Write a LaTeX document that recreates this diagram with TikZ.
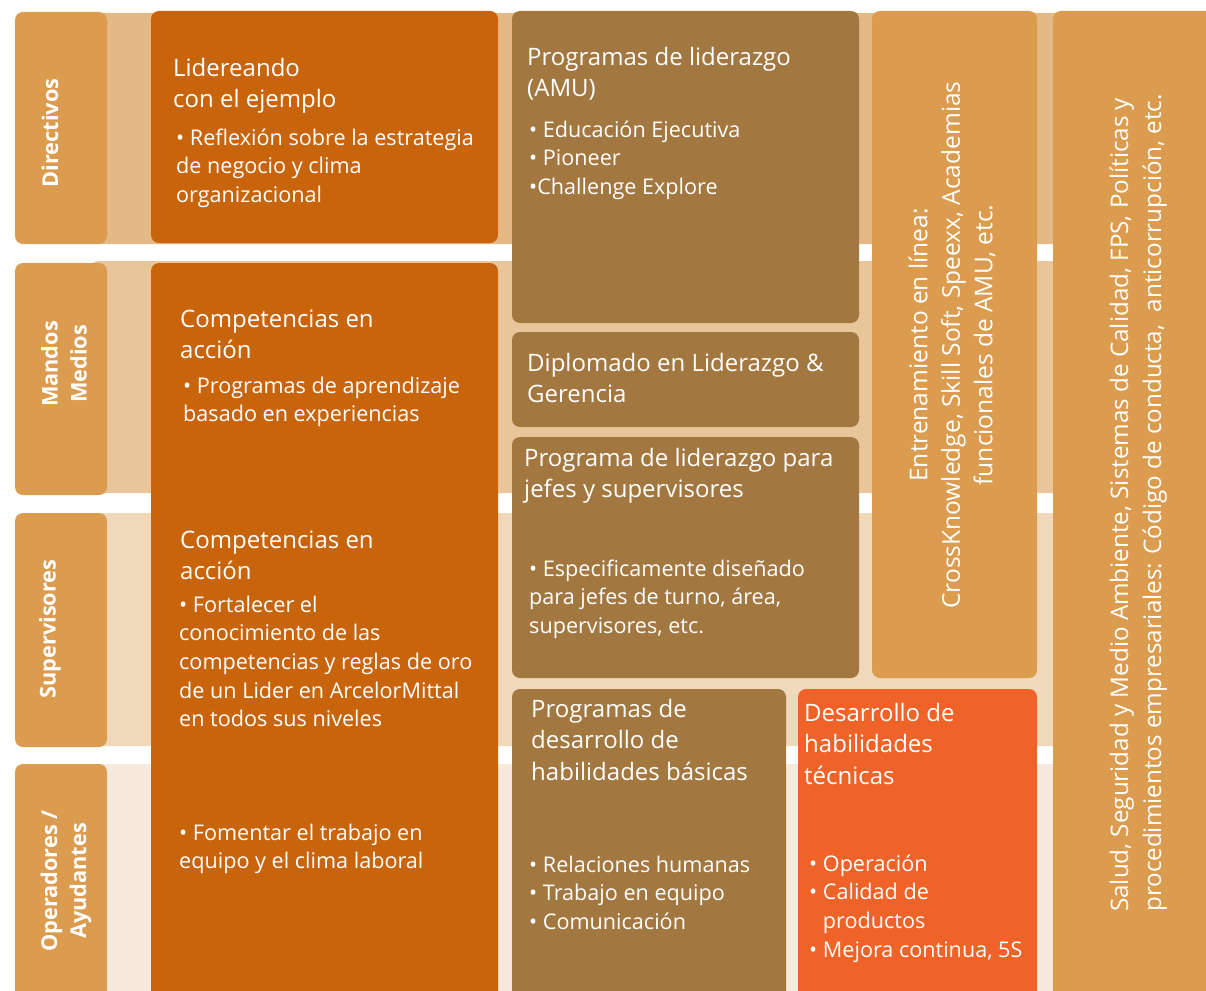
\documentclass[tikz,border=0pt]{standalone}
\usepackage{fontspec}
\setmainfont{Open Sans}
\definecolor{labc}{HTML}{DC9C50}
\definecolor{orgc}{HTML}{C8650C}
\definecolor{brnc}{HTML}{A37740}
\definecolor{redc}{HTML}{EF6329}
\definecolor{bandA}{HTML}{E5B985}
\definecolor{bandB}{HTML}{E9C59A}
\definecolor{bandC}{HTML}{F0D8BB}
\definecolor{bandD}{HTML}{F7EADC}
\begin{document}
\begin{tikzpicture}[x=1pt,y=-1pt,
  box/.style={rounded corners=8pt},
  titletxt/.style={anchor=base west, align=left, inner sep=0pt, text=white, font=\fontsize{24}{31.5}\selectfont},
  bodytxt/.style={anchor=base west, align=left, inner sep=0pt, text=white, font=\fontsize{21.6}{28.7}\selectfont},
  labtxt/.style={rotate=90, align=center, inner sep=0pt, text=white, font=\bfseries\fontsize{21.7}{29}\selectfont},
  vtxt/.style={rotate=90, inner sep=0pt, text=white}]
\useasboundingbox (0,0) rectangle (1206,990);
\clip (0,0) rectangle (1206,990);
% row bands
\fill[bandA, box] (90,13) rectangle (1230,244);
\fill[bandB, box] (90,261) rectangle (1230,493);
\fill[bandC, box] (90,513) rectangle (1230,746);
\fill[bandD, box] (90,764) rectangle (1230,1010);
% level labels
\fill[labc, box] (15,12) rectangle (107,244);
\fill[labc, box] (15,263) rectangle (107,495);
\fill[labc, box] (15,513) rectangle (107,747);
\fill[labc, box] (15,764) rectangle (107,1010);
\node[labtxt] (ldir) at (50,133) {Directivos};
\node[labtxt] (lmm) at (64,364) {Mandos\\Medios};
\node[labtxt] (lsup) at (50,629) {Supervisores};
\node[labtxt] (lop) at (66,881) {Operadores /\\Ayudantes};
% orange column (anchors are the baseline of the last line)
\fill[orgc, box] (151,11) rectangle (498,243);
\fill[orgc, box] (151,263) rectangle (498,1010);
\node[titletxt] (t1) at (173,107.5) {Lidereando\\con el ejemplo};
\node[bodytxt] (b1) at (176,202.4) {• Reflexión sobre la estrategia\\de negocio y clima\\organizacional};
\node[titletxt] (t2) at (180,358.5) {Competencias en\\acción};
\node[bodytxt] (b2) at (183,421.7) {• Programas de aprendizaje\\basado en experiencias};
\node[titletxt] (t3) at (180,579.5) {Competencias en\\acción};
\node[bodytxt] (b3) at (179,726.8) {• Fortalecer el\\conocimiento de las\\competencias y reglas de oro\\de un Lider en ArcelorMittal\\en todos sus niveles};
\node[bodytxt] (b4) at (179,868.7) {• Fomentar el trabajo en\\equipo y el clima laboral};
% brown column
\fill[brnc, box] (512,11) rectangle (859,323);
\fill[brnc, box] (512,332) rectangle (859,427);
\fill[brnc, box] (512,437) rectangle (859,678);
\fill[brnc, box] (512,689) rectangle (786,1010);
\node[titletxt] (t5) at (527,96.5) {Programas de liderazgo\\(AMU)};
\node[bodytxt] (b5) at (529,194.4) {• Educación Ejecutiva\\• Pioneer\\•Challenge Explore};
\node[titletxt] (t6) at (527,402.5) {Diplomado en Liderazgo \&\\Gerencia};
\node[titletxt] (t7) at (524,497.5) {Programa de liderazgo para\\jefes y supervisores};
\node[bodytxt] (b7) at (529,633.4) {• Especificamente diseñado\\para jefes de turno, área,\\supervisores, etc.};
\node[titletxt] (t8) at (531,780) {Programas de\\desarrollo de\\habilidades básicas};
\node[bodytxt] (b8) at (529,929.4) {• Relaciones humanas\\• Trabajo en equipo\\• Comunicación};
% technical skills
\fill[redc, box] (798,689) rectangle (1037,1010);
\node[titletxt] (t9) at (804,784) {Desarrollo de\\habilidades\\técnicas};
\node[bodytxt] (b9) at (809,957.1) {• Operación\\• Calidad de\\\phantom{• }productos\\• Mejora continua, 5S};
% online training
\fill[labc, box] (872,11) rectangle (1037,678);
\node[vtxt, align=center, font=\fontsize{24.5}{32.5}\selectfont] (ent) at (952,345) {Entrenamiento en línea:\\CrossKnowledge, Skill Soft, Speexx, Academias\\funcionales de AMU, etc.};
% corporate
\fill[labc, box] (1053,11) rectangle (1230,1010);
\node[vtxt, align=left, anchor=base west, font=\fontsize{24.2}{33}\selectfont] (sal) at (1161,912) {Salud, Seguridad y Medio Ambiente, Sistemas de Calidad, FPS, Políticas y\\procedimientos empresariales: Código de conducta,\ \ anticorrupción, etc.};
\end{tikzpicture}
\end{document}
